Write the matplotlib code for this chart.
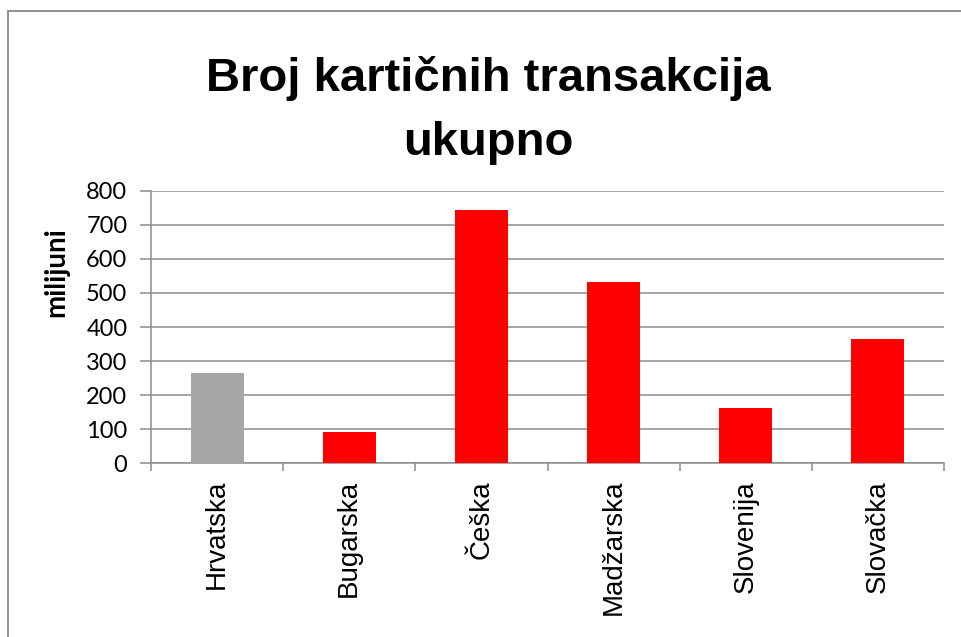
import matplotlib.pyplot as plt
from matplotlib.patches import Rectangle
import numpy as np

# Chart data (millions of card transactions).
countries = ["Hrvatska", "Bugarska", "Češka", "Madžarska", "Slovenija", "Slovačka"]
transactions = [266, 93, 744, 532, 161, 365]
bar_colors = ["#a6a6a6", "#ff0000", "#ff0000", "#ff0000", "#ff0000", "#ff0000"]
y_ticks = [0, 100, 200, 300, 400, 500, 600, 700, 800]

grid_color = "#8c8c8c"

fig = plt.figure(figsize=(9.61, 6.37), dpi=100)
ax = fig.add_axes([151 / 961, 1 - 463.3 / 637, (944 - 151) / 961, (463.3 - 190.7) / 637])

x = np.arange(len(countries))
ax.bar(x, transactions, width=0.4, color=bar_colors, zorder=3)

# Axes limits and grid
ax.set_xlim(-0.5, len(countries) - 0.5)
ax.set_ylim(0, 800)
ax.set_yticks(y_ticks)
ax.yaxis.grid(True, color=grid_color, linewidth=1.1, zorder=0)

# Spines: only left and bottom, in gray
for side in ["top", "right"]:
    ax.spines[side].set_visible(False)
for side in ["left", "bottom"]:
    ax.spines[side].set_color(grid_color)
    ax.spines[side].set_linewidth(1.1)

# Y ticks
ax.tick_params(axis="y", direction="out", length=8, width=1.1, color=grid_color, pad=9)
for lbl in ax.get_yticklabels():
    lbl.set_fontfamily("Lato")
    lbl.set_fontsize(17)

# X ticks: labels at the centre, tick marks between categories
ax.set_xticks(x)
ax.set_xticklabels(countries, rotation=90, fontsize=20, fontfamily="Liberation Sans")
ax.tick_params(axis="x", which="major", length=0, pad=12)
ax.set_xticks(np.arange(-0.5, len(countries)), minor=True)
ax.tick_params(axis="x", which="minor", direction="out", length=6, width=1.1, color=grid_color)

# Title and y label
fig.text(488 / 961, 1 - 56 / 637, "Broj kartičnih transakcija\nukupno",
         ha="center", va="top", fontsize=34, fontweight="bold",
         fontfamily="Liberation Sans", linespacing=1.6)
fig.text(56 / 961, 1 - 272.5 / 637, "milijuni", rotation=90, ha="center", va="center",
         fontsize=20, fontweight="bold", fontfamily="Lato")

# Outer chart border (runs off the right and bottom edges)
fig.patches.append(Rectangle((7.5 / 961, -0.1), 1.2, 1 - 10.5 / 637 + 0.1,
                             transform=fig.transFigure, fill=False,
                             edgecolor="#888888", linewidth=1.3))

fig.savefig("out.png", dpi=100)
